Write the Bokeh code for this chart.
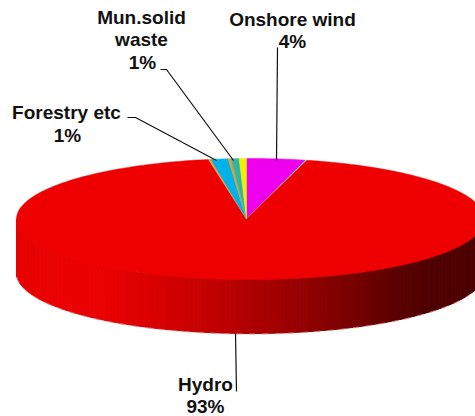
import numpy as np
from bokeh.plotting import figure
from bokeh.embed import file_html
from bokeh.resources import INLINE
from bokeh.core.properties import value

# Slices clockwise from the top of the pie, in percent
slice_names = ["Onshore wind", "Offshore wind", "Hydro", "Biogas", "Forestry etc", "Landfill gas", "Mun.solid waste", "Other"]
slice_values = [4.05, 0.10, 93.25, 0.15, 1.20, 0.20, 0.55, 0.50]
slice_colors = ["#ee00ee", "#9ad6a8", "#ee0000", "#f2a81e", "#00b2e8", "#f09a20", "#30b4a8", "#f0f000"]

# Wall shading, left to right
wall_stops_x = [16, 95, 160, 230, 300, 350, 400, 430, 480]
wall_stops_rgb = [(232, 0, 0), (236, 0, 0), (216, 0, 0), (186, 0, 0), (150, 0, 0), (122, 0, 0), (90, 0, 0), (80, 0, 0), (78, 0, 0)]

labels = [
    ("Mun.solid", 141, 17), ("waste", 141, 39), ("1%", 142, 62),
    ("Onshore wind", 292, 19), ("4%", 292, 41),
    ("Forestry etc", 66, 112), ("1%", 67, 135),
    ("Hydro", 205, 384), ("93%", 205, 406),
]
leaders = [
    ([160, 166, 233], [69, 69, 160]),
    ([127, 135, 216], [117, 117, 160]),
    ([277, 276], [47, 160]),
    ([235, 236], [333, 391]),
]

CX, CY, RX, RY = 250.0, 218.5, 234.0, 60.5
APEX = (246.0, 218.5)
DEPTH = 54.0
START_DEG = -0.98


def rim(t):
    return CX + RX * np.sin(t), CY - RY * np.cos(t)


p = figure(width=475, height=416, x_range=(0, 475), y_range=(416, 0),
           output_backend="svg", toolbar_location=None,
           min_border=0, outline_line_color=None, background_fill_color="white")
p.xaxis.visible = False
p.yaxis.visible = False
p.grid.visible = False

# Wall: narrow strips along the front half of the rim
edges = np.linspace(-np.pi / 2, np.pi / 2, 181)
wx0, wy0 = rim(np.pi - edges[:-1])
wx1, wy1 = rim(np.pi - edges[1:])
xs, ys, cols = [], [], []
for a, b, c, d in zip(wx0, wy0, wx1, wy1):
    xs.append([a, c, c, a])
    ys.append([b, d, d + DEPTH, b + DEPTH])
    mid = (a + c) / 2
    r = int(np.interp(mid, wall_stops_x, [s[0] for s in wall_stops_rgb]))
    cols.append(f"#{r:02x}0000")
p.patches(xs, ys, fill_color=cols, line_color=cols, line_width=1)

# Pink aliased fringe on the lower rim
bt = np.linspace(np.pi / 2, 3 * np.pi / 2, 200)
bx, by = rim(bt)
p.line(bx, by + DEPTH + 0.5, line_color="#d88080", line_width=1, line_dash="6 7")

# Top face: slices from the values
fractions = np.array(slice_values) / sum(slice_values)
bounds = np.radians(START_DEG) + np.concatenate([[0], np.cumsum(fractions)]) * 2 * np.pi
xs, ys = [], []
for t0, t1 in zip(bounds[:-1], bounds[1:]):
    t = np.linspace(t0, t1, max(3, int((t1 - t0) * 60)))
    ax, ay = rim(t)
    xs.append([APEX[0], *ax])
    ys.append([APEX[1], *ay])
p.patches(xs, ys, fill_color=slice_colors, line_color=slice_colors, line_width=0.5)

for lx, ly in leaders:
    p.line(lx, ly, line_color="#111111", line_width=1.2)

p.text([l[1] for l in labels], [l[2] for l in labels], text=[l[0] for l in labels],
       text_font=value("Liberation Sans"), text_font_style="bold", text_font_size="19px",
       text_align="center", text_baseline="middle", text_color="#111111")

open("out.html", "w").write(file_html(p, INLINE))
